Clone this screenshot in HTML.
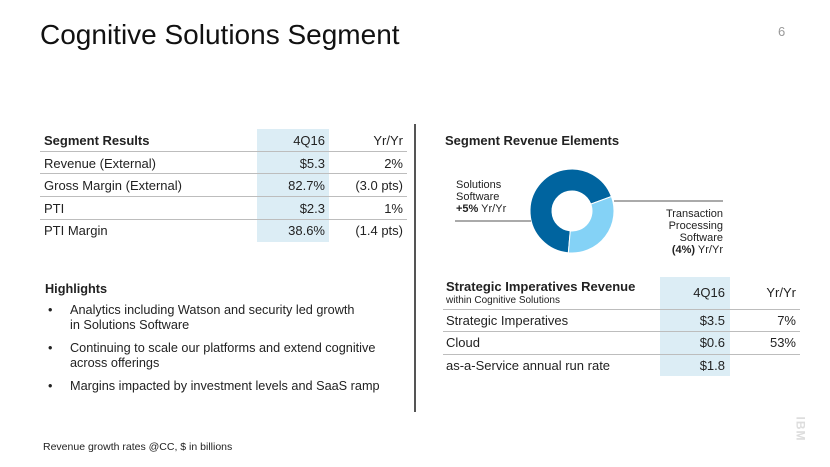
<!DOCTYPE html>
<html><head><meta charset="utf-8"><style>
body{margin:0;width:830px;height:467px;background:#fff;position:relative;overflow:hidden;font-family:"Liberation Sans",Arial,sans-serif;color:#222}
.a{position:absolute;white-space:nowrap}
.shade{position:absolute;background:#dcedf5}
.hl{position:absolute;height:1px;background:#bdbdbd}
.t{font-size:13px}
.h{font-size:12.7px}
.r{text-align:right}
</style></head><body>
<div class="a" style="left:40px;top:19px;font-size:28px;color:#111">Cognitive Solutions Segment</div>
<div class="a" style="left:778px;top:24px;font-size:13px;color:#999">6</div>

<div>
<div class="shade" style="left:257px;top:129px;width:72px;height:113px"></div>
<div class="a t" style="left:44px;top:133px;font-weight:bold">Segment Results</div>
<div class="a t r" style="left:250px;top:133px;width:75px">4Q16</div>
<div class="a t r" style="left:330px;top:133px;width:73px">Yr/Yr</div>
<div class="hl" style="left:40px;top:151px;width:367px"></div>
<div class="a t" style="left:44px;top:156px">Revenue (External)</div>
<div class="a t r" style="left:250px;top:156px;width:75px">$5.3</div>
<div class="a t r" style="left:330px;top:156px;width:73px">2%</div>
<div class="hl" style="left:40px;top:173px;width:367px"></div>
<div class="a t" style="left:44px;top:178px">Gross Margin (External)</div>
<div class="a t r" style="left:250px;top:178px;width:75px">82.7%</div>
<div class="a t r" style="left:330px;top:178px;width:73px">(3.0 pts)</div>
<div class="hl" style="left:40px;top:196px;width:367px"></div>
<div class="a t" style="left:44px;top:201px">PTI</div>
<div class="a t r" style="left:250px;top:201px;width:75px">$2.3</div>
<div class="a t r" style="left:330px;top:201px;width:73px">1%</div>
<div class="hl" style="left:40px;top:219px;width:367px"></div>
<div class="a t" style="left:44px;top:223px">PTI Margin</div>
<div class="a t r" style="left:250px;top:223px;width:75px">38.6%</div>
<div class="a t r" style="left:330px;top:223px;width:73px">(1.4 pts)</div>
</div>

<div class="a h" style="left:45px;top:282px;font-weight:bold">Highlights</div>
<div class="a h" style="left:48px;top:303px;line-height:15px">•<span style="position:absolute;left:22px">Analytics including Watson and security led growth<br>in Solutions Software</span></div>
<div class="a h" style="left:48px;top:341px;line-height:15px">•<span style="position:absolute;left:22px">Continuing to scale our platforms and extend cognitive<br>across offerings</span></div>
<div class="a h" style="left:48px;top:379px;line-height:15px">•<span style="position:absolute;left:22px">Margins impacted by investment levels and SaaS ramp</span></div>
<div class="a" style="left:43px;top:441px;font-size:10.5px">Revenue growth rates @CC, $ in billions</div>

<div style="position:absolute;left:414px;top:124px;width:2px;height:288px;background:#555"></div>

<div class="a t" style="left:445px;top:133px;font-weight:bold">Segment Revenue Elements</div>
<svg id="donut" style="position:absolute;left:0;top:0" width="830" height="467"></svg>
<div class="a" style="left:456px;top:179px;font-size:11px;line-height:12px">Solutions<br>Software<br><b>+5%</b> Yr/Yr</div>
<div class="a r" style="left:620px;top:208px;width:103px;font-size:11px;line-height:12px">Transaction<br>Processing<br>Software<br><b>(4%)</b> Yr/Yr</div>

<div>
<div class="shade" style="left:660px;top:277px;width:70px;height:99px"></div>
<div class="a t" style="left:446px;top:279px;font-weight:bold">Strategic Imperatives Revenue</div>
<div class="a" style="left:446px;top:295px;font-size:10px">within Cognitive Solutions</div>
<div class="a t r" style="left:650px;top:285px;width:75px">4Q16</div>
<div class="a t r" style="left:730px;top:285px;width:66px">Yr/Yr</div>
<div class="hl" style="left:443px;top:309px;width:357px"></div>
<div class="a t" style="left:446px;top:313px">Strategic Imperatives</div>
<div class="a t r" style="left:650px;top:313px;width:75px">$3.5</div>
<div class="a t r" style="left:730px;top:313px;width:66px">7%</div>
<div class="hl" style="left:443px;top:331px;width:357px"></div>
<div class="a t" style="left:446px;top:335px">Cloud</div>
<div class="a t r" style="left:650px;top:335px;width:75px">$0.6</div>
<div class="a t r" style="left:730px;top:335px;width:66px">53%</div>
<div class="hl" style="left:443px;top:354px;width:357px"></div>
<div class="a t" style="left:446px;top:358px">as-a-Service annual run rate</div>
<div class="a t r" style="left:650px;top:358px;width:75px">$1.8</div>
</div>

<div class="a" style="left:788px;top:422px;font-size:12px;font-weight:bold;color:#ddd;transform:rotate(90deg);letter-spacing:1px">IBM</div>

<script>
const segments=["Solutions Software","Transaction Processing Software"];
const shares=[68,32];
const colors=["#00649f","#84d2f6"];
const startDeg=185;
const svg=document.getElementById('donut');
const NS='http://www.w3.org/2000/svg';
const cx=572,cy=211,R=42,r=20;
function pt(deg,rad){const a=(deg-90)*Math.PI/180;return [cx+rad*Math.cos(a),cy+rad*Math.sin(a)];}
const total=shares.reduce((s,v)=>s+v,0);
let ang=startDeg;
shares.forEach((v,i)=>{
  const sweep=v/total*360,e=ang+sweep,lg=sweep>180?1:0;
  const [x1,y1]=pt(ang,R),[x2,y2]=pt(e,R),[x3,y3]=pt(e,r),[x4,y4]=pt(ang,r);
  const p=document.createElementNS(NS,'path');
  p.setAttribute('d',`M${x1},${y1}A${R},${R} 0 ${lg} 1 ${x2},${y2}L${x3},${y3}A${r},${r} 0 ${lg} 0 ${x4},${y4}Z`);
  p.setAttribute('fill',colors[i]);p.setAttribute('stroke','#fff');p.setAttribute('stroke-width','1');
  
  
  svg.appendChild(p);ang=e;
});
[[455,221,531,221],[614,201,723,201]].forEach((c,i)=>{
  const l=document.createElementNS(NS,'line');
  l.setAttribute('x1',c[0]);l.setAttribute('y1',c[1]);l.setAttribute('x2',c[2]);l.setAttribute('y2',c[3]);
  l.setAttribute('stroke','#555');l.setAttribute('stroke-width','1');
  
  
  svg.appendChild(l);
});
</script>
</body></html>
